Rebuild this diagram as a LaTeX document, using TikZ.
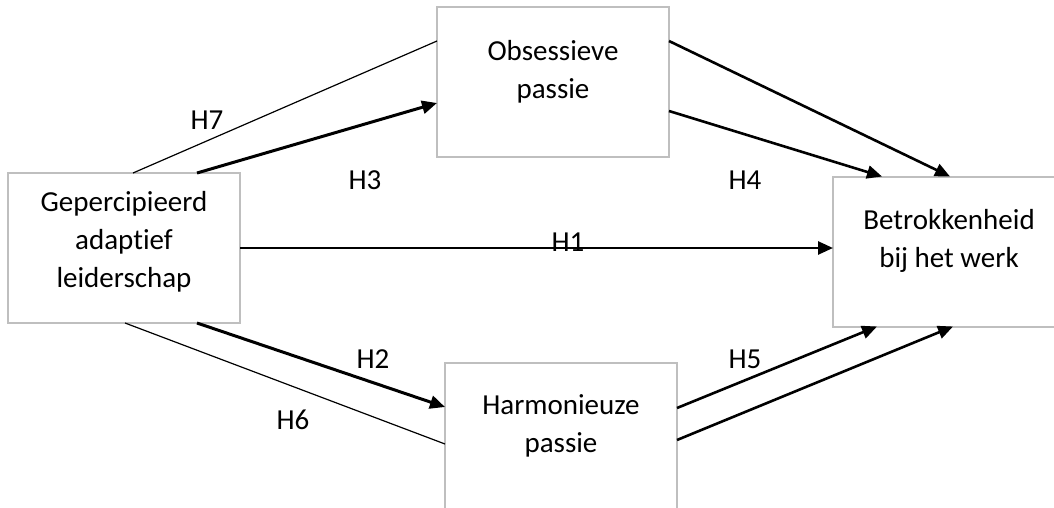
\documentclass[tikz,border=0pt]{standalone}
\usepackage{fontspec}
\setmainfont{Carlito}[RawFeature=-liga]
\usetikzlibrary{arrows.meta,calc}
\begin{document}
\begin{tikzpicture}[x=0.5pt,y=-0.5pt,
  box/.style={draw=gray!50,line width=1pt,minimum width=116pt,minimum height=75pt,inner sep=0pt,outer sep=0pt},
  boxtext/.style={align=center,font=\fontsize{14.5}{19}\selectfont,inner sep=0pt},
  hlabel/.style={font=\fontsize{14.5}{17}\selectfont,inner sep=0pt},
  effect/.style={line width=1.3pt,-{Triangle[length=7.5pt,width=6.5pt]}},
  mainpath/.style={line width=1.5pt,-{Triangle[length=7.5pt,width=6.5pt]}},
  mediation/.style={line width=0.6pt}]
\useasboundingbox (0,0) rectangle (1054,508);
\clip (0,0) rectangle (1054,508);

% boxes
\node[box] (gal)  at (124,248)   {};
\node[box] (obs)  at (553,82)    {};
\node[box] (harm) at (561,438)   {};
\node[box] (bet)  at (949,251.5) {};

% box texts
\node[boxtext] (galt)  at (124,242) {Gepercipieerd\\adaptief\\leiderschap};
\node[boxtext] (obst)  at (553,72)  {Obsessieve\\passie};
\node[boxtext] (harmt) at (561,426) {Harmonieuze\\passie};
\node[boxtext] (bett)  at (949,241) {Betrokkenheid\\bij het werk};

% connection points on the box borders
\coordinate (g7) at ($(gal.north west)+(125,0)$);
\coordinate (g3) at ($(gal.north west)+(189,0)$);
\coordinate (g2) at ($(gal.south west)+(189,0)$);
\coordinate (g6) at ($(gal.south west)+(117,0)$);
\coordinate (o7) at ($(obs.north west)+(0,34)$);
\coordinate (o3) at ($(obs.north west)+(0,96)$);
\coordinate (oa) at ($(obs.north east)+(0,34)$);
\coordinate (ob) at ($(obs.north east)+(0,104)$);
\coordinate (h2) at ($(harm.north west)+(0,44)$);
\coordinate (h6) at ($(harm.north west)+(0,81)$);
\coordinate (ha) at ($(harm.north east)+(0,45)$);
\coordinate (hb) at ($(harm.north east)+(0,77)$);
\coordinate (ba) at ($(bet.north west)+(117,0)$);
\coordinate (bb) at ($(bet.north west)+(49,0)$);
\coordinate (bc) at ($(bet.south west)+(44,0)$);
\coordinate (bd) at ($(bet.south west)+(120,0)$);

% connectors
\draw[mediation] (g7) -- (o7);
\draw[mainpath]  (g3) -- (o3);
\draw[effect]    (oa) -- (ba);
\draw[effect]    (ob) -- (bb);
\draw[effect]    (gal.east) -- (gal.east -| bet.west);
\draw[mainpath]  (g2) -- (h2);
\draw[mediation] (g6) -- (h6);
\draw[effect]    (ha) -- (bc);
\draw[effect]    (hb) -- (bd);

% hypothesis labels
\node[hlabel] (l7) at (207,120) {H7};
\node[hlabel] (l3) at (365,180) {H3};
\node[hlabel] (l4) at (745,180) {H4};
\node[hlabel] (l1) at (568,242) {H1};
\node[hlabel] (l2) at (373,359) {H2};
\node[hlabel] (l6) at (293,420) {H6};
\node[hlabel] (l5) at (745,359) {H5};
\end{tikzpicture}
\end{document}
